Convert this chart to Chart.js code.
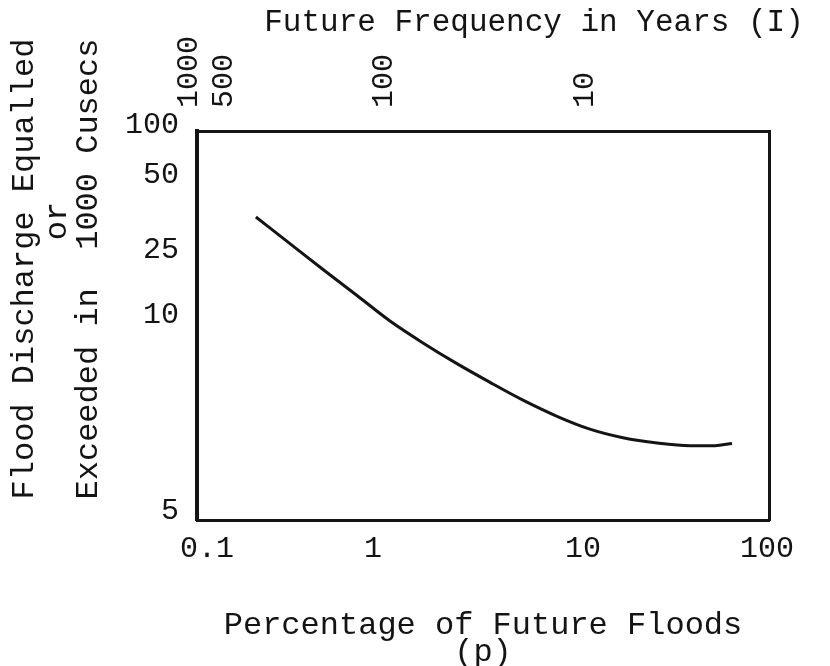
<!DOCTYPE html>
<html>
<head>
<meta charset="utf-8">
<title>Flood frequency curve</title>
<script src="https://cdn.jsdelivr.net/npm/chart.js@4.4.0/dist/chart.umd.min.js"></script>
<style>
  html, body { margin: 0; padding: 0; background: #fff; }
  #wrap { width: 830px; height: 666px; }
</style>
</head>
<body>
<div id="wrap"><canvas id="floodChart"></canvas></div>
<script>
// percentage of future floods (p)
const percent = [0.197, 0.316, 0.5, 0.801, 1.205, 1.73, 2.51, 3.61, 5.18, 7.52, 10.9, 16.5, 25.3, 38.2, 52.2, 64.5];
// flood discharge equalled or exceeded, 1000 cusecs
const discharge = [33.9, 26.5, 19.0, 13.16, 9.79, 9.06, 8.42, 7.88, 7.40, 6.99, 6.68, 6.48, 6.36, 6.30, 6.30, 6.35];

// tick labels
const percentTicks = [0.1, 1, 10, 100];
const yearTicks = [1000, 500, 100, 10];
const dischargeTicks = [5, 10, 25, 50, 100];

const sideTitle = ['Flood Discharge Equalled', 'or', 'Exceeded in  1000 Cusecs'];
const topTitle = 'Future Frequency in Years (I)';
const bottomTitle = ['Percentage of Future Floods', '(p)'];

// where each typed label sits along its axis (0 = start, 1 = end),
// the paper is not a clean log grid so the scale goes piece by piece
const axisPaper = {
  x: { values: percentTicks, fracs: [0.0175, 0.3077, 0.6748, 0.9965] },
  top: { values: yearTicks, fracs: [0.0385, 0.0997, 0.3794, 0.7308] },
  y: { values: dischargeTicks, fracs: [0.0231, 0.5270, 0.6941, 0.8869, 1.0154] }
};

class PaperScale extends Chart.Scale {
  determineDataLimits() {
    const v = axisPaper[this.id].values;
    this.min = Math.min(...v);
    this.max = Math.max(...v);
  }
  buildTicks() {
    return axisPaper[this.id].values.map((value) => ({ value: value }));
  }
  getLabelForValue(value) {
    return String(value);
  }
  fraction(value) {
    const { values, fracs } = axisPaper[this.id];
    const L = values.map((v) => Math.log10(v));
    const lv = Math.log10(value);
    let i = 0;
    while (i < L.length - 2 && (lv - L[i + 1]) * (L[i + 1] - L[i]) > 0) i++;
    return fracs[i] + ((lv - L[i]) / (L[i + 1] - L[i])) * (fracs[i + 1] - fracs[i]);
  }
  getPixelForValue(value) {
    return this.getPixelForDecimal(this.fraction(value));
  }
  getValueForPixel(pixel) {
    const f = this.getDecimalForPixel(pixel);
    const { values, fracs } = axisPaper[this.id];
    let i = 0;
    while (i < fracs.length - 2 && f > fracs[i + 1]) i++;
    const l0 = Math.log10(values[i]);
    const l1 = Math.log10(values[i + 1]);
    return Math.pow(10, l0 + ((f - fracs[i]) / (fracs[i + 1] - fracs[i])) * (l1 - l0));
  }
}
PaperScale.id = 'paper';
PaperScale.defaults = {};
Chart.register(PaperScale);

const ink = '#141414';
const typeFace = "'Liberation Mono', 'DejaVu Sans Mono', monospace";
Chart.defaults.font.family = typeFace;
Chart.defaults.color = ink;

// titles typed beside the frame
const typedTitles = {
  id: 'typedTitles',
  afterDraw(chart) {
    const ctx = chart.ctx;
    ctx.save();
    ctx.fillStyle = ink;
    ctx.textAlign = 'center';
    ctx.textBaseline = 'middle';
    ctx.font = '31px ' + typeFace;
    ctx.fillText(topTitle, 534, 23);
    ctx.font = '32px ' + typeFace;
    const spots = [[25, 269], [58, 221], [89, 269]];
    sideTitle.forEach((line, i) => {
      ctx.save();
      ctx.translate(spots[i][0], spots[i][1]);
      ctx.rotate(-Math.PI / 2);
      ctx.fillText(line, 0, 0);
      ctx.restore();
    });
    ctx.restore();
  }
};

const points = percent.map((p, i) => ({ x: p, y: discharge[i] }));

const noGrid = { display: false, drawTicks: false };

const config = {
  type: 'line',
  data: {
    datasets: [
      {
        label: 'Flood discharge',
        data: points,
        xAxisID: 'x',
        yAxisID: 'y',
        borderColor: ink,
        borderWidth: 3,
        pointRadius: 0,
        cubicInterpolationMode: 'monotone',
        fill: false
      }
    ]
  },
  options: {
    responsive: true,
    maintainAspectRatio: false,
    animation: false,
    layout: { padding: 0 },
    plugins: { legend: { display: false }, tooltip: { enabled: false } },
    scales: {
      x: {
        type: 'paper',
        position: 'bottom',
        afterFit: (s) => { s.height = 146; },
        grid: noGrid,
        border: { display: true, color: ink, width: 3 },
        ticks: { autoSkip: false, maxRotation: 0, padding: 14, font: { size: 30, lineHeight: 1 } },
        title: {
          display: true,
          text: bottomTitle,
          font: { size: 32, lineHeight: 0.85 },
          padding: 0
        }
      },
      top: {
        type: 'paper',
        position: 'top',
        afterFit: (s) => { s.height = 131; },
        grid: noGrid,
        border: { display: true, color: ink, width: 3 },
        ticks: { autoSkip: false, minRotation: 90, maxRotation: 90, padding: 23, font: { size: 30, lineHeight: 1 } }
      },
      y: {
        type: 'paper',
        position: 'left',
        afterFit: (s) => { s.width = 197; },
        grid: noGrid,
        border: { display: true, color: ink, width: 4 },
        ticks: { autoSkip: false, padding: 18, font: { size: 30, lineHeight: 1 } }
      },
      right: {
        type: 'linear',
        position: 'right',
        afterFit: (s) => { s.width = 61; },
        grid: noGrid,
        border: { display: true, color: ink, width: 3 },
        ticks: { display: false }
      }
    }
  },
  plugins: [typedTitles]
};

const floodChart = new Chart(document.getElementById('floodChart'), config);
</script>
</body>
</html>
